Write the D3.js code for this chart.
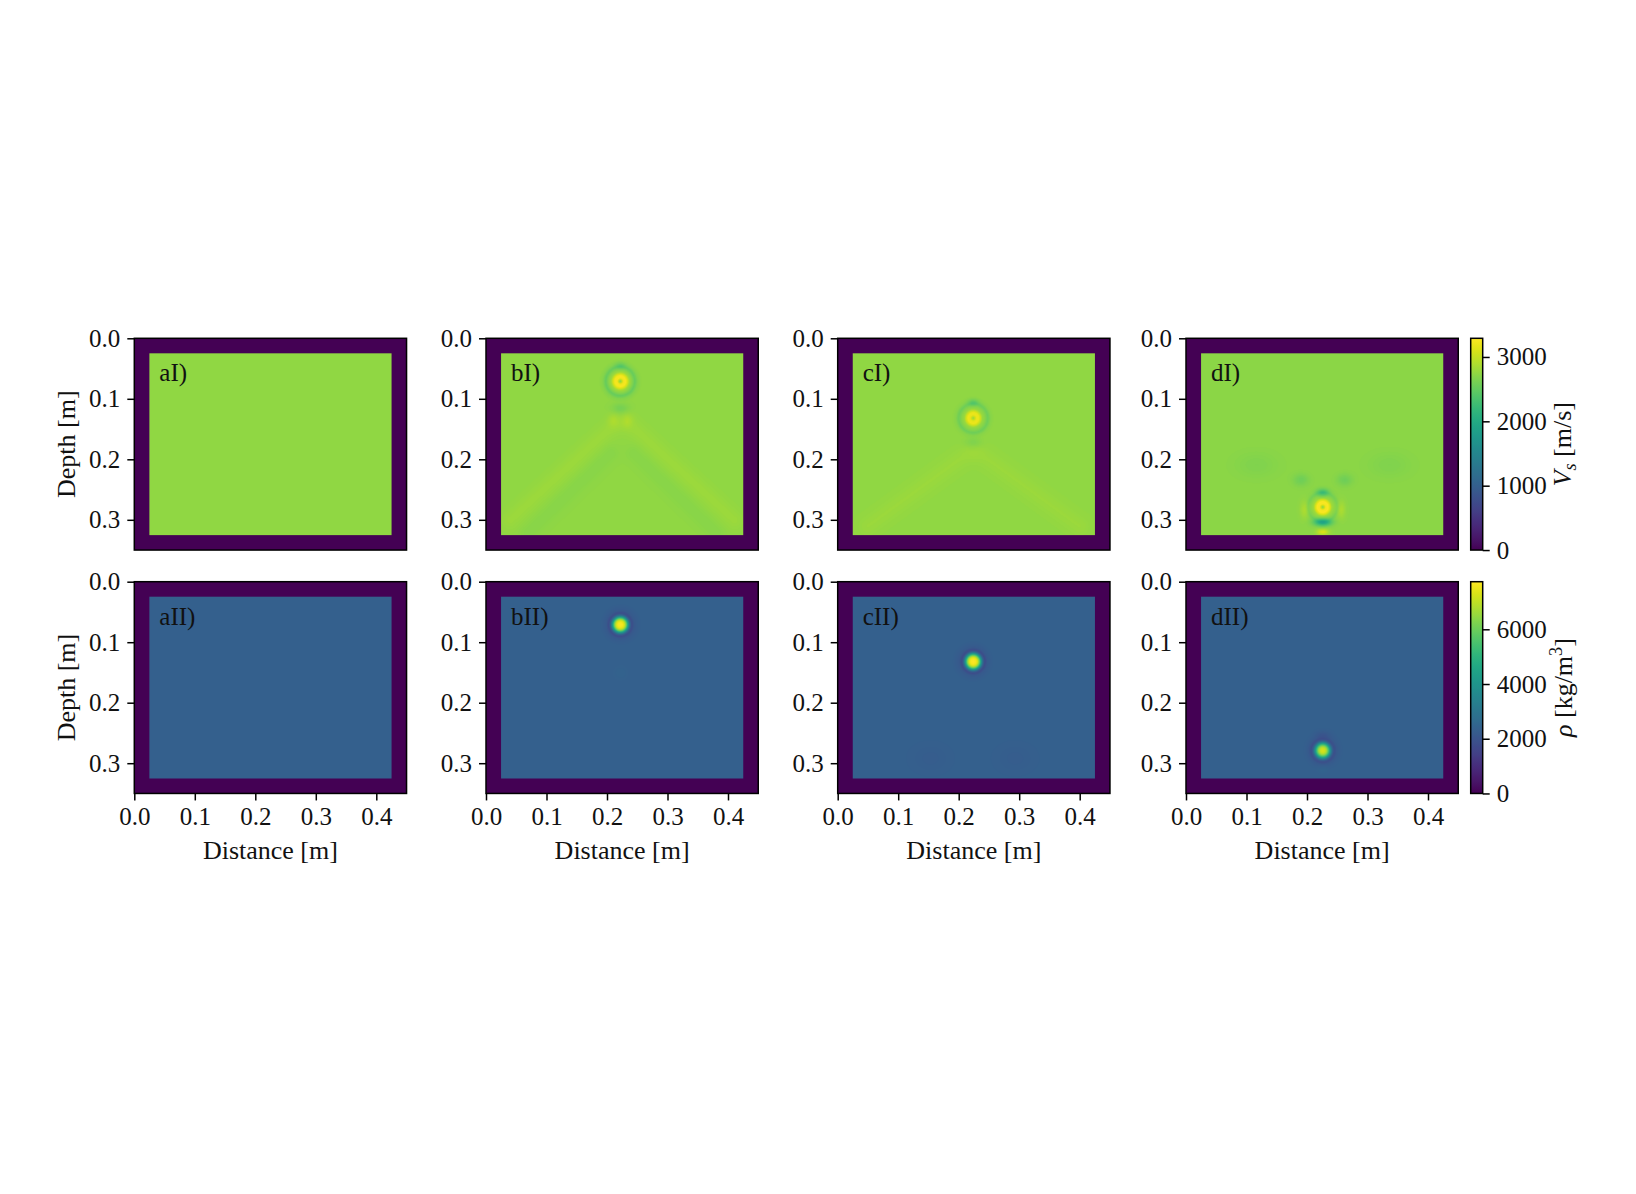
<!DOCTYPE html>
<html>
<head>
<meta charset="utf-8">
<script src="https://cdn.jsdelivr.net/npm/d3@7"></script>
<style>
  html, body { margin: 0; padding: 0; background: #ffffff; }
  svg { display: block; }
  text { font-family: 'Liberation Serif', 'Times New Roman', serif; fill: #111; }
</style>
</head>
<body>
<svg id="fig" width="1636" height="1194"></svg>
<script>
// ---------------- data ----------------
const panelLetters = ["a", "b", "c", "d"];
const rowNumerals = ["I", "II"];
const distanceTicks = [0.0, 0.1, 0.2, 0.3, 0.4];
const depthTicks = [0.0, 0.1, 0.2, 0.3];
const distanceExtent = [0, 0.45];
const depthExtent = [0, 0.35];
const innerDistance = [0.025, 0.425];   // model region (outside = absorbing pad, value 0)
const innerDepth = [0.025, 0.325];

const vsTicks = [0, 1000, 2000, 3000];
const vsMax = 3290;
const rhoTicks = [0, 2000, 4000, 6000];
const rhoMax = 7740;

// background value per panel (a, b, c, d)
const vsBackground = [2750, 2740, 2745, 2720];
const rhoBackground = [2350, 2340, 2340, 2345];

// inclusion location per panel (a has none)
const inclusionDistance = [null, 0.222, 0.224, 0.226];
const inclusionDepth = [null, 0.071, 0.132, 0.279];

// radial profiles (radius in m -> value)
const vsRadius = [0, 0.002, 0.005, 0.009, 0.012, 0.015, 0.019, 0.024, 0.029, 0.035];
const vsProfileB = [2650, 2900, 3230, 3250, 3080, 2820, 2700, 2520, 2680, 2740];
const vsProfileC = [2750, 2950, 3180, 3200, 3020, 2790, 2700, 2560, 2700, 2745];
const vsProfileD = [2650, 2950, 3250, 3270, 3100, 2820, 2720, 2600, 2700, 2720];
const rhoRadius = [0, 0.004, 0.007, 0.010, 0.013, 0.016, 0.019, 0.023, 0.028, 0.034];
const rhoProfileB = [7700, 7600, 7200, 6000, 4100, 2500, 1800, 2150, 2260, 2340];
const rhoProfileC = [7750, 7650, 7300, 6100, 4200, 2550, 1750, 2150, 2260, 2340];
const rhoProfileD = [7300, 7100, 6500, 5300, 3700, 2400, 1850, 2150, 2280, 2345];

// secondary anomalies (offset from inclusion in m, widths in m, amplitude)
const vsLobesB = [
  { dx: 0.000, dz: -0.026, wx: 0.006, wz: 0.004, amp: -150 },
  { dx: 0.000, dz: 0.045, wx: 0.010, wz: 0.006, amp: -140 },
  { dx: -0.012, dz: 0.065, wx: 0.006, wz: 0.008, amp: 90 },
  { dx: 0.012, dz: 0.065, wx: 0.006, wz: 0.008, amp: 90 }
];
const vsLobesC = [
  { dx: 0.000, dz: -0.026, wx: 0.006, wz: 0.004, amp: -200 },
  { dx: 0.000, dz: 0.040, wx: 0.010, wz: 0.006, amp: -100 }
];
const vsLobesD = [
  { dx: 0.000, dz: 0.025, wx: 0.010, wz: 0.0042, amp: -720 },
  { dx: 0.000, dz: 0.041, wx: 0.007, wz: 0.0035, amp: 380 },
  { dx: 0.000, dz: -0.024, wx: 0.007, wz: 0.0045, amp: -380 },
  { dx: -0.030, dz: 0.004, wx: 0.005, wz: 0.010, amp: 170 },
  { dx: 0.030, dz: 0.004, wx: 0.005, wz: 0.010, amp: 170 },
  { dx: -0.036, dz: -0.045, wx: 0.009, wz: 0.007, amp: -150 },
  { dx: 0.036, dz: -0.045, wx: 0.009, wz: 0.007, amp: -150 },
  { dx: -0.110, dz: -0.070, wx: 0.025, wz: 0.015, amp: -60 },
  { dx: 0.110, dz: -0.070, wx: 0.025, wz: 0.015, amp: -60 }
];
const rhoLobesB = [
  { dx: 0.000, dz: 0.080, wx: 0.008, wz: 0.008, amp: 80 }
];
const rhoLobesC = [
  { dx: -0.070, dz: 0.160, wx: 0.020, wz: 0.015, amp: -90 },
  { dx: 0.070, dz: 0.160, wx: 0.020, wz: 0.015, amp: -90 }
];
const rhoLobesD = [
  { dx: 0.000, dz: -0.026, wx: 0.009, wz: 0.005, amp: -200 },
  { dx: 0.000, dz: 0.032, wx: 0.006, wz: 0.004, amp: 120 }
];
// faint diagonal streaks (from -> to, in m)
const vsStreaksB = [
  { x0: 0.215, z0: 0.14, x1: 0.040, z1: 0.30, w: 0.012, amp: 55 },
  { x0: 0.235, z0: 0.14, x1: 0.410, z1: 0.30, w: 0.012, amp: 55 },
  { x0: 0.205, z0: 0.19, x1: 0.070, z1: 0.32, w: 0.010, amp: -40 },
  { x0: 0.245, z0: 0.19, x1: 0.380, z1: 0.32, w: 0.010, amp: -40 }
];
const vsStreaksC = [
  { x0: 0.215, z0: 0.19, x1: 0.050, z1: 0.31, w: 0.012, amp: 45 },
  { x0: 0.235, z0: 0.19, x1: 0.400, z1: 0.31, w: 0.012, amp: 45 }
];
const vsStreaksD = [];

const vsProfiles = [null, vsProfileB, vsProfileC, vsProfileD];
const rhoProfiles = [null, rhoProfileB, rhoProfileC, rhoProfileD];
const vsLobes = [[], vsLobesB, vsLobesC, vsLobesD];
const rhoLobes = [[], rhoLobesB, rhoLobesC, rhoLobesD];
const vsStreaks = [[], vsStreaksB, vsStreaksC, vsStreaksD];
const rhoStreaks = [[], [], [], []];

// ---------------- layout ----------------
const colLeft = [134.3, 486, 837.7, 1186];
const rowTop = [338.3, 581.7];
const pxPerM = 605;
const plotW = (distanceExtent[1] - distanceExtent[0]) * pxPerM;
const plotH = (depthExtent[1] - depthExtent[0]) * pxPerM;
const cbLeft = 1470.7, cbW = 12;
const FONT = 25;
const LABEL_FONT = 26;

const svg = d3.select("#fig");
svg.append("rect").attr("width", 1636).attr("height", 1194).attr("fill", "#fff");

const xScale = d3.scaleLinear().domain(distanceExtent).range([0, plotW]);
const yScale = d3.scaleLinear().domain(depthExtent).range([0, plotH]);
const vsColor = d3.scaleSequential(d3.interpolateViridis).domain([0, vsMax]);
const rhoColor = d3.scaleSequential(d3.interpolateViridis).domain([0, rhoMax]);

function segDist2(px, pz, s) {
  const vx = s.x1 - s.x0, vz = s.z1 - s.z0;
  let t = ((px - s.x0) * vx + (pz - s.z0) * vz) / (vx * vx + vz * vz);
  t = Math.max(0, Math.min(1, t));
  const dx = px - (s.x0 + t * vx), dz = pz - (s.z0 + t * vz);
  return dx * dx + dz * dz;
}

function makeField(p, row) {
  const bg = row === 0 ? vsBackground[p] : rhoBackground[p];
  const prof = row === 0 ? vsProfiles[p] : rhoProfiles[p];
  const radii = row === 0 ? vsRadius : rhoRadius;
  const lobes = row === 0 ? vsLobes[p] : rhoLobes[p];
  const streaks = row === 0 ? vsStreaks[p] : rhoStreaks[p];
  const profScale = prof ? d3.scaleLinear().domain(radii).range(prof).clamp(true) : null;
  const rmax = radii[radii.length - 1];
  return function (x, z) {
    if (x < innerDistance[0] || x > innerDistance[1] || z < innerDepth[0] || z > innerDepth[1]) return 0;
    let v = bg;
    if (prof) {
      const cx = inclusionDistance[p], cz = inclusionDepth[p];
      const dx = x - cx, dz = z - cz;
      const r = Math.sqrt(dx * dx + dz * dz);
      if (r < rmax) v = profScale(r) + (bg - prof[prof.length - 1]) * (r / rmax);
      for (const l of lobes) {
        const ex = (dx - l.dx) / l.wx, ez = (dz - l.dz) / l.wz;
        v += l.amp * Math.exp(-0.5 * (ex * ex + ez * ez));
      }
    }
    for (const s of streaks) v += s.amp * Math.exp(-segDist2(x, z, s) / (2 * s.w * s.w));
    return v;
  };
}

function fieldImage(p, row) {
  const W = Math.round(plotW), H = Math.round(plotH);
  const cv = document.createElement("canvas");
  cv.width = W; cv.height = H;
  const ctx = cv.getContext("2d");
  const img = ctx.createImageData(W, H);
  const f = makeField(p, row);
  const color = row === 0 ? vsColor : rhoColor;
  const maxV = row === 0 ? vsMax : rhoMax;
  for (let j = 0; j < H; j++) {
    const z = yScale.invert((j + 0.5) * plotH / H);
    for (let i = 0; i < W; i++) {
      const x = xScale.invert((i + 0.5) * plotW / W);
      const v = Math.max(0, Math.min(maxV, f(x, z)));
      const c = d3.rgb(color(v));
      const k = (j * W + i) * 4;
      img.data[k] = c.r; img.data[k + 1] = c.g; img.data[k + 2] = c.b; img.data[k + 3] = 255;
    }
  }
  ctx.putImageData(img, 0, 0);
  return cv.toDataURL();
}

function styleAxis(g) {
  g.select(".domain").remove();
  g.selectAll(".tick line").attr("stroke", "#000").attr("stroke-width", 1.5);
  g.selectAll(".tick text").attr("font-family", "'Liberation Serif', serif")
    .attr("font-size", FONT).attr("fill", "#111");
  g.attr("font-family", null).attr("font-size", null);
}

for (let row = 0; row < 2; row++) {
  for (let p = 0; p < 4; p++) {
    const g = svg.append("g").attr("transform", `translate(${colLeft[p]},${rowTop[row]})`);
    g.append("image")
      .attr("x", 0).attr("y", 0)
      .attr("width", plotW).attr("height", plotH)
      .attr("preserveAspectRatio", "none")
      .attr("href", fieldImage(p, row));
    g.append("rect").attr("width", plotW).attr("height", plotH)
      .attr("fill", "none").attr("stroke", "#000").attr("stroke-width", 1.5);

    const ya = g.append("g").call(d3.axisLeft(yScale).tickValues(depthTicks)
      .tickFormat(d3.format(".1f")).tickSize(7).tickPadding(7));
    styleAxis(ya);

    if (row === 1) {
      const xa = g.append("g").attr("transform", `translate(0,${plotH})`)
        .call(d3.axisBottom(xScale).tickValues(distanceTicks)
          .tickFormat(d3.format(".1f")).tickSize(7).tickPadding(7));
      styleAxis(xa);
      g.append("text")
        .attr("x", plotW / 2).attr("y", plotH + 66)
        .attr("text-anchor", "middle").attr("font-size", LABEL_FONT)
        .text("Distance [m]");
    }
    g.append("text")
      .attr("x", 25).attr("y", 43)
      .attr("font-size", FONT)
      .text(panelLetters[p] + rowNumerals[row] + ")");

    if (p === 0) {
      svg.append("text")
        .attr("transform", `translate(74.5,${rowTop[row] + plotH / 2}) rotate(-90)`)
        .attr("text-anchor", "middle").attr("font-size", LABEL_FONT)
        .text("Depth [m]");
    }
  }
}

// ---------------- colorbars ----------------
const defs = svg.append("defs");
const grad = defs.append("linearGradient").attr("id", "viridisGrad")
  .attr("x1", 0).attr("y1", 1).attr("x2", 0).attr("y2", 0);
d3.range(0, 1.0001, 0.02).forEach(t => {
  grad.append("stop").attr("offset", t).attr("stop-color", d3.interpolateViridis(t));
});

function colorbar(row, maxV, ticks) {
  const top = rowTop[row];
  const s = d3.scaleLinear().domain([0, maxV]).range([plotH, 0]);
  const g = svg.append("g").attr("transform", `translate(${cbLeft},${top})`);
  g.append("rect").attr("width", cbW).attr("height", plotH).attr("fill", "url(#viridisGrad)");
  g.append("rect").attr("width", cbW).attr("height", plotH)
    .attr("fill", "none").attr("stroke", "#000").attr("stroke-width", 1.5);
  const a = g.append("g").attr("transform", `translate(${cbW},0)`)
    .call(d3.axisRight(s).tickValues(ticks).tickFormat(d3.format("d")).tickSize(7).tickPadding(7));
  styleAxis(a);
  return g;
}
colorbar(0, vsMax, vsTicks);
colorbar(1, rhoMax, rhoTicks);

// Vs label
const vsLab = svg.append("text")
  .attr("transform", `translate(1571,${rowTop[0] + plotH / 2}) rotate(-90)`)
  .attr("text-anchor", "middle").attr("font-size", LABEL_FONT);
vsLab.append("tspan").attr("font-style", "italic").text("V");
vsLab.append("tspan").attr("font-style", "italic").attr("font-size", LABEL_FONT * 0.7).attr("dy", 5).text("s");
vsLab.append("tspan").attr("dy", -5).text(" [m/s]");

// rho label
const rhoLab = svg.append("text")
  .attr("transform", `translate(1572,${rowTop[1] + plotH / 2}) rotate(-90)`)
  .attr("text-anchor", "middle").attr("font-size", LABEL_FONT);
rhoLab.append("tspan").attr("font-style", "italic").text("ρ");
rhoLab.append("tspan").text(" [kg/m");
rhoLab.append("tspan").attr("font-size", LABEL_FONT * 0.7).attr("dy", -10).text("3");
rhoLab.append("tspan").attr("dy", 10).text("]");
</script>
</body>
</html>
